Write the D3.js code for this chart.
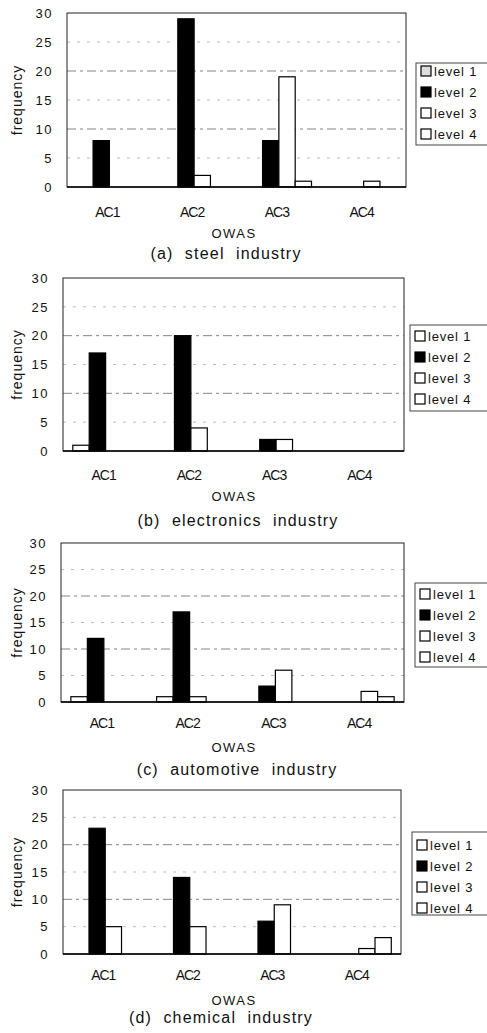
<!DOCTYPE html>
<html>
<head>
<meta charset="utf-8">
<script src="https://cdn.jsdelivr.net/npm/d3@7/dist/d3.min.js"></script>
<style>
  body { margin: 0; background: #fff; }
  text { font-family: "Liberation Sans", Arial, sans-serif; fill: #111; }
</style>
</head>
<body>
<svg id="chart" width="487" height="1033"></svg>
<script>
// data
const categories = ['AC1', 'AC2', 'AC3', 'AC4'];
const levels = ['level 1', 'level 2', 'level 3', 'level 4'];
const yTicks = [0, 5, 10, 15, 20, 25, 30];
const gridTicks = [5, 10, 15, 20, 25];

// one row per level, one value per category
const steelValues = [[0, 0, 0, 0], [8, 29, 8, 0], [0, 2, 19, 1], [0, 0, 1, 0]];
const electronicsValues = [[1, 0, 0, 0], [17, 20, 2, 0], [0, 4, 2, 0], [0, 0, 0, 0]];
const automotiveValues = [[1, 1, 0, 0], [12, 17, 3, 0], [0, 1, 6, 2], [0, 0, 0, 1]];
const chemicalValues = [[0, 0, 0, 0], [23, 14, 6, 0], [5, 5, 9, 1], [0, 0, 0, 3]];

const titles = ['(a)  steel  industry', '(b)  electronics  industry', '(c)  automotive  industry', '(d)  chemical  industry'];
const xTitle = 'OWAS';
const yTitle = 'frequency';

// layout of each panel
const panels = [
  {values: steelValues, left: 67, right: 406, top: 13, bottom: 187, lx: 416, ly: 63, lh: 82, row0: 71, titleX: 226, acDy: 25, owasDy: 46, titleDy: 66},
  {values: electronicsValues, left: 63, right: 404, top: 278, bottom: 451, lx: 410, ly: 325, lh: 86, row0: 336, titleX: 238, acDy: 24, owasDy: 45, titleDy: 69},
  {values: automotiveValues, left: 61, right: 404, top: 543, bottom: 702, lx: 415, ly: 583, lh: 84, row0: 594, titleX: 237, acDy: 21, owasDy: 45, titleDy: 67},
  {values: chemicalValues, left: 63, right: 401, top: 790, bottom: 954, lx: 412, ly: 832, lh: 83, row0: 845, titleX: 221, acDy: 21, owasDy: 46, titleDy: 63}
];

const fills = ['#fff', '#000', '#fff', '#fff'];

const svg = d3.select('#chart');

panels.forEach(function(p, i) {
  const g = svg.append('g');

  const x0 = d3.scaleBand()
      .domain(categories)
      .range([p.left, p.right])
      .padding(0);
  const edge = x0.bandwidth() * 0.115;
  const x1 = d3.scaleBand()
      .domain(levels)
      .range([edge, x0.bandwidth() - edge])
      .padding(0);
  const y = d3.scaleLinear()
      .domain([0, 30])
      .range([p.bottom, p.top]);

  // gridlines
  g.selectAll('line.grid')
      .data(gridTicks)
      .enter()
      .append('line')
      .attr('x1', p.left)
      .attr('x2', p.right)
      .attr('y1', d => y(d))
      .attr('y2', d => y(d))
      .attr('stroke', d => d % 10 === 0 ? '#666' : '#aaa')
      .attr('stroke-width', 0.8)
      .attr('stroke-dasharray', d => d % 10 === 0 ? '9,4,3,4' : '3,7');

  // bars
  const bars = [];
  p.values.forEach(function(row, li) {
    row.forEach(function(v, ci) {
      if (v > 0) bars.push({cat: categories[ci], level: levels[li], li: li, value: v});
    });
  });
  g.selectAll('rect.bar')
      .data(bars)
      .enter()
      .append('rect')
      .attr('x', d => x0(d.cat) + x1(d.level))
      .attr('y', d => y(d.value))
      .attr('width', x1.bandwidth())
      .attr('height', d => y(0) - y(d.value))
      .attr('fill', d => fills[d.li])
      .attr('stroke', '#000')
      .attr('stroke-width', 1.2);

  // plot frame
  g.append('rect')
      .attr('x', p.left)
      .attr('y', p.top)
      .attr('width', p.right - p.left)
      .attr('height', p.bottom - p.top)
      .attr('fill', 'none')
      .attr('stroke', '#222')
      .attr('stroke-width', 1);
  g.append('line')
      .attr('x1', p.left).attr('x2', p.right)
      .attr('y1', p.bottom).attr('y2', p.bottom)
      .attr('stroke', '#000').attr('stroke-width', 1.6);

  // y axis labels
  const yAxis = d3.axisLeft(y).tickValues(yTicks).tickSize(0).tickPadding(14);
  const ya = g.append('g')
      .attr('transform', 'translate(' + p.left + ',0)')
      .call(yAxis);
  ya.select('.domain').remove();
  ya.selectAll('text')
      .attr('font-size', 13)
      .attr('letter-spacing', 1.5)
      .attr('font-family', '"Liberation Sans", Arial, sans-serif')
      .attr('fill', '#111');

  // x axis labels
  const xAxis = d3.axisBottom(x0).tickSize(0).tickPadding(0);
  const xa = g.append('g')
      .attr('transform', 'translate(-2,' + (p.bottom + p.acDy) + ')')
      .call(xAxis);
  xa.select('.domain').remove();
  xa.selectAll('text')
      .attr('dy', '0.35em')
      .attr('font-size', 14)
      .attr('letter-spacing', -1)
      .attr('font-family', '"Liberation Sans", Arial, sans-serif')
      .attr('fill', '#111');

  g.append('text')
      .attr('x', 234)
      .attr('y', p.bottom + p.owasDy)
      .attr('dy', '0.35em')
      .attr('text-anchor', 'middle')
      .attr('font-size', 13)
      .attr('letter-spacing', 1.5)
      .text(xTitle);

  g.append('text')
      .attr('transform', 'translate(17,' + ((p.top + p.bottom) / 2) + ') rotate(-90)')
      .attr('dy', '0.35em')
      .attr('text-anchor', 'middle')
      .attr('font-size', 14)
      .attr('letter-spacing', 1)
      .text(yTitle);

  g.append('text')
      .attr('x', p.titleX)
      .attr('y', p.bottom + p.titleDy)
      .attr('dy', '0.35em')
      .attr('text-anchor', 'middle')
      .attr('font-size', 16)
      .attr('letter-spacing', 1.2)
      .attr('style', 'white-space: pre')
      .text(titles[i]);

  // legend
  const lg = g.append('g');
  lg.append('rect')
      .attr('x', p.lx)
      .attr('y', p.ly)
      .attr('width', 487 - p.lx + 4)
      .attr('height', p.lh)
      .attr('fill', '#fff')
      .attr('stroke', '#444')
      .attr('stroke-width', 1);
  const rows = lg.selectAll('g.row')
      .data(levels)
      .enter()
      .append('g')
      .attr('transform', (d, k) => 'translate(' + (p.lx + 5) + ',' + (p.row0 + k * 21) + ')');
  rows.append('rect')
      .attr('x', 0)
      .attr('y', -5)
      .attr('width', 10)
      .attr('height', 10)
      .attr('fill', (d, k) => (i === 0 && k === 0) ? '#ddd' : fills[k])
      .attr('stroke', '#000')
      .attr('stroke-width', 1.2);
  rows.append('text')
      .attr('x', 13)
      .attr('y', 0)
      .attr('dy', '0.35em')
      .attr('font-size', 13)
      .attr('letter-spacing', 0.8)
      .text(d => d);
});
</script>
</body>
</html>
